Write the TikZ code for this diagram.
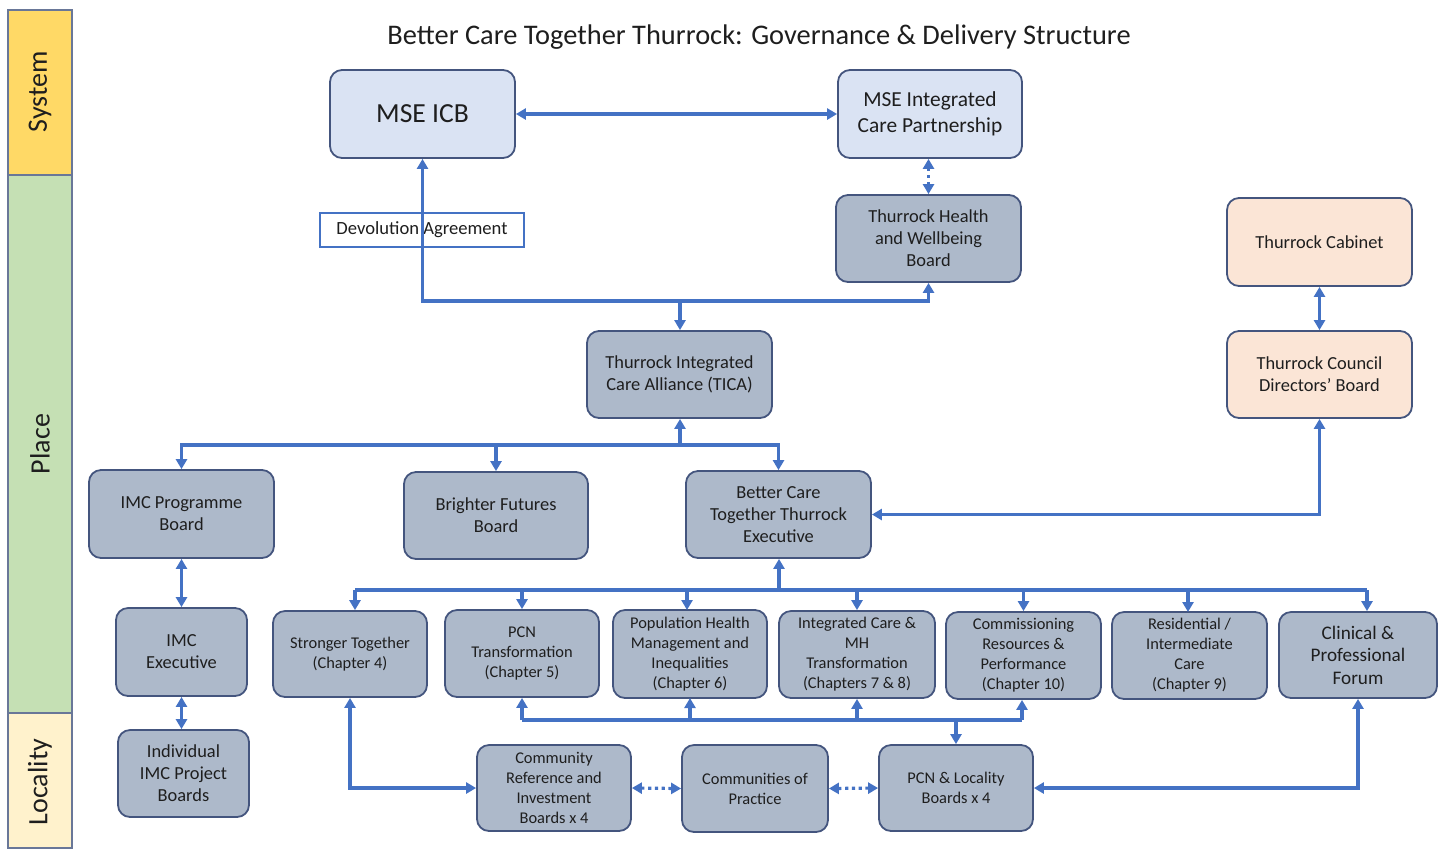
\documentclass[tikz,border=0pt]{standalone}
\usepackage{fontspec}
\setmainfont{Carlito}
\usetikzlibrary{arrows.meta}
\definecolor{lnk}{HTML}{4472C4}
\definecolor{bord}{HTML}{44557E}
\definecolor{lblue}{HTML}{DAE3F3}
\definecolor{gbox}{HTML}{ADB9CA}
\definecolor{peach}{HTML}{FBE5D6}
\definecolor{sysc}{HTML}{FFD966}
\definecolor{plc}{HTML}{C5E0B4}
\definecolor{locc}{HTML}{FFF2CC}
\definecolor{txt}{HTML}{1E1E1E}
\newcommand\bx[7]{\node[#6, minimum width={(#4-#2)*0.5pt}, minimum height={(#5-#3)*0.5pt}] (#1) at ({(#2+#4)/2},{(#3+#5)/2}) {#7};}
\begin{document}
\begin{tikzpicture}[x=0.5pt,y=-0.5pt,
  base/.style={draw=bord, line width=0.9pt, rounded corners=6pt, align=center, text=txt, inner sep=1pt},
  blue/.style={base, fill=lblue},
  grey/.style={base, fill=gbox, font=\fontsize{9.2}{11}\selectfont},
  chap/.style={base, fill=gbox, font=\fontsize{8.2}{10}\selectfont},
  pch/.style={base, fill=peach, font=\fontsize{9.2}{11}\selectfont},
  lab/.style={draw=lnk, line width=0.8pt, fill=white, text=txt, font=\fontsize{9.3}{11}\selectfont},
  conn/.style={draw=lnk, line width=1.6pt, arrows={-}},
  tip/.tip={Triangle[width=5.5pt,length=5pt]},
  dots/.style={conn, dash pattern=on 1.6pt off 1.8pt},
  bar/.style={draw=bord!80, line width=0.6pt},
  barlab/.style={rotate=90, text=txt, font=\fontsize{14}{16}\selectfont}
]
\useasboundingbox (0,0) rectangle (1445,848);
% side bars
\draw[bar, fill=sysc] (8,10) rectangle (72,175);
\draw[bar, fill=plc] (8,175) rectangle (72,713);
\draw[bar, fill=locc] (8,713) rectangle (72,848);
\node[barlab] (lsys) at (40,92) {System};
\node[barlab] (lplace) at (40,444) {Place};
\node[barlab] (lloc) at (40,782) {Locality};
% title
\node[text=txt, font=\fontsize{14.2}{16}\selectfont] (title) at (759,37) {Better Care Together Thurrock: Governance \& Delivery Structure};
% system level
\bx{icb}{330}{70}{515}{158}{blue, font=\fontsize{13.8}{16}\selectfont}{MSE ICB}
\bx{icp}{838}{70}{1022}{158}{blue, font=\fontsize{10.7}{13}\selectfont}{MSE Integrated\\Care Partnership}
\bx{hwb}{836}{195}{1021}{282}{grey}{Thurrock Health\\and Wellbeing\\Board}
\bx{dev}{320}{213}{524}{247}{lab}{Devolution Agreement}
\bx{cab}{1227}{198}{1412}{286}{pch}{Thurrock Cabinet}
\bx{dir}{1227}{331}{1412}{418}{pch}{Thurrock Council\\Directors’ Board}
\bx{tica}{587}{331}{772}{418}{grey}{Thurrock Integrated\\Care Alliance (TICA)}
\bx{imcp}{89}{470}{274}{558}{grey}{IMC Programme\\Board}
\bx{bff}{404}{472}{588}{559}{grey}{Brighter Futures\\Board}
\bx{bct}{686}{471}{871}{558}{grey}{Better Care\\Together Thurrock\\Executive}
\bx{imce}{116}{608}{247}{696}{grey}{IMC\\Executive}
\bx{ind}{118}{730}{249}{817}{grey}{Individual\\IMC Project\\Boards}
\bx{st}{273}{611}{427}{697}{chap}{Stronger Together\\(Chapter 4)}
\bx{pcnt}{445}{610}{599}{697}{chap}{PCN\\Transformation\\(Chapter 5)}
\bx{pop}{613}{610}{767}{698}{chap}{Population Health\\Management and\\Inequalities\\(Chapter 6)}
\bx{int}{779}{611}{935}{698}{chap}{Integrated Care \&\\MH\\Transformation\\(Chapters 7 \& 8)}
\bx{com}{946}{612}{1101}{699}{chap}{Commissioning\\Resources \&\\Performance\\(Chapter 10)}
\bx{res}{1112}{612}{1267}{699}{chap}{Residential /\\Intermediate\\Care\\(Chapter 9)}
\bx{clin}{1279}{612}{1437}{698}{grey, font=\fontsize{9.6}{11.3}\selectfont}{Clinical \&\\Professional\\Forum}
\bx{cr}{477}{745}{631}{831}{chap}{Community\\Reference and\\Investment\\Boards x 4}
\bx{cop}{682}{745}{828}{832}{chap}{Communities of\\Practice}
\bx{pcnl}{879}{745}{1033}{831}{chap}{PCN \& Locality\\Boards x 4}
% connectors
\draw[conn, tip-tip] (icb.east) -- (icp.west);
\draw[dots, tip-tip] (hwb.north) -- (hwb.north |- icp.south);
\coordinate (j1) at (680,301);
\draw[conn, tip-tip] (icb.south) -- (icb.south |- j1) -- (hwb.south |- j1) -- (hwb.south);
\draw[conn, -tip] (j1) -- (j1 |- tica.north);
\draw[conn, tip-tip] (cab.south) -- (dir.north);
\draw[conn, tip-tip] (dir.south) |- (bct.east);
\coordinate (j2) at (680,445);
\draw[conn, -tip] (j2) -- (j2 |- tica.south);
\draw[conn, tip-tip] (imcp.north) -- (imcp.north |- j2) -- (bct.north |- j2) -- (bct.north);
\draw[conn, -tip] (bff.north |- j2) -- (bff.north);
\draw[conn, tip-tip] (imcp.south) -- (imce.north);
\draw[conn, tip-tip] (imce.south) -- (imce.south |- ind.north);
% BCT bus
\coordinate (j3) at (779,590);
\coordinate (b1) at (355,590);
\coordinate (b2) at (1367,590);
\draw[conn, -tip] (j3) -- (j3 |- bct.south);
\draw[conn] (b1) -- (b2);
\draw[conn, -tip] (b1) -- (b1 |- st.north);
\draw[conn, -tip] (pcnt.north |- b1) -- (pcnt.north);
\draw[conn, -tip] (687,590) -- (687,610);
\draw[conn, -tip] (int.north |- b1) -- (int.north);
\draw[conn, -tip] (com.north |- b1) -- (com.north);
\draw[conn, -tip] (1188,590) -- (1188,612);
\draw[conn, -tip] (b2) -- (b2 |- clin.north);
% lower bus
\coordinate (c1) at (522,720);
\coordinate (c2) at (1022,720);
\draw[conn, -tip] (c1) -- (c1 |- pcnt.south);
\draw[conn] (c1) -- (c2);
\draw[conn, -tip] (690,720) -- (690,698);
\draw[conn, -tip] (int.south |- c1) -- (int.south);
\draw[conn, -tip] (c2) -- (c2 |- com.south);
\draw[conn, -tip] (pcnl.north |- c1) -- (pcnl.north);
% locality
\draw[conn, tip-tip] (st.south) |- (cr.west);
\draw[dots, tip-tip] (cr.east) -- (cop.west);
\draw[dots, tip-tip] (cop.east) -- (pcnl.west);
\draw[conn, tip-tip] (pcnl.east) -| (clin.south);
\end{tikzpicture}
\end{document}
